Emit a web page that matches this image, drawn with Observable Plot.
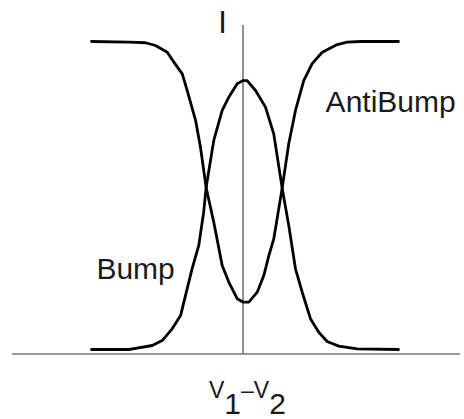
<!DOCTYPE html>
<html>
<head>
<meta charset="utf-8">
<script src="https://cdn.jsdelivr.net/npm/d3@7"></script>
<script src="https://cdn.jsdelivr.net/npm/@observablehq/plot@0.6"></script>
<style>
  body { margin: 0; background: #fff; }
  #chart { position: relative; width: 464px; height: 419px; }
  .caption {
    position: absolute; left: 209px; top: 379px;
    font-family: "Liberation Sans", Arial, sans-serif;
    font-size: 23px; line-height: 23px; color: #1a1a1a; white-space: nowrap;
  }
  .caption sub { font-size: 30px; vertical-align: -16px; line-height: 0; }
</style>
</head>
<body>
<div id="chart"></div>
<script>
// Bump: current peaks when the two input voltages are equal
const bumpX = [-0.990, -0.746, -0.703, -0.593, -0.528, -0.463, -0.408, -0.376, -0.333, -0.289,
  -0.257, -0.241, -0.191, -0.136, -0.093, -0.038, -0.001, 0.027, 0.082, 0.147,
  0.201, 0.256, 0.299, 0.343, 0.387, 0.441, 0.495, 0.550, 0.626, 0.746, 1.016];
const bumpY = [0.000, 0.000, 0.004, 0.013, 0.029, 0.067, 0.110, 0.175, 0.262, 0.338,
  0.446, 0.526, 0.679, 0.776, 0.819, 0.863, 0.873, 0.873, 0.841, 0.787,
  0.700, 0.524, 0.403, 0.262, 0.186, 0.100, 0.056, 0.026, 0.011, 0.002, 0.000];

// AntiBump: current dips when the two input voltages are equal
const antiX = [-0.990, -0.746, -0.637, -0.572, -0.495, -0.452, -0.397, -0.365, -0.310, -0.278,
  -0.241, -0.191, -0.136, -0.093, -0.038, -0.001, 0.038, 0.093, 0.136, 0.169,
  0.201, 0.256, 0.299, 0.343, 0.397, 0.452, 0.518, 0.616, 0.681, 0.768, 1.016];
const antiY = [1.000, 0.998, 0.996, 0.987, 0.965, 0.933, 0.895, 0.841, 0.744, 0.657,
  0.526, 0.413, 0.273, 0.219, 0.165, 0.154, 0.154, 0.186, 0.240, 0.305,
  0.359, 0.524, 0.668, 0.776, 0.873, 0.928, 0.965, 0.990, 0.998, 1.000, 1.000];

// Curve names and axis name, anchored in data space
const labelText = ["AntiBump", "Bump"];
const labelX = [0.540, -0.958];
const labelY = [0.770, 0.2295];
const axisName = "I";

const bump = bumpX.map((x, i) => ({x, y: bumpY[i]}));
const anti = antiX.map((x, i) => ({x, y: antiY[i]}));
const labels = labelText.map((text, i) => ({text, x: labelX[i], y: labelY[i]}));

const font = "'Liberation Sans', Arial, Helvetica, sans-serif";

const plot = Plot.plot({
  width: 464,
  height: 370,
  marginLeft: 12,
  marginRight: 4,
  marginTop: 0,
  marginBottom: 0,
  x: {domain: [-1, 1], range: [89.5, 395.5], axis: null},
  y: {domain: [0, 1], range: [349, 41], axis: null},
  style: {fontFamily: font, background: "white", color: "#1a1a1a"},
  marks: [
    Plot.ruleY([-0.0146], {stroke: "#777", strokeWidth: 1.5}),
    Plot.ruleX([0], {y1: -0.0146, y2: 1.052, stroke: "#222", strokeWidth: 1}),
    Plot.line(bump, {x: "x", y: "y", stroke: "black", strokeWidth: 2.8, strokeLinejoin: "round"}),
    Plot.line(anti, {x: "x", y: "y", stroke: "black", strokeWidth: 2.8, strokeLinejoin: "round"}),
    Plot.text(labels, {x: "x", y: "y", text: "text", textAnchor: "start", lineAnchor: "bottom",
      fontSize: 30, fill: "#1a1a1a"}),
    Plot.text([axisName], {x: -0.133, y: 1.029, text: d => d, textAnchor: "middle", lineAnchor: "bottom",
      fontSize: 31, fill: "#1a1a1a"})
  ]
});

const chart = document.getElementById("chart");
chart.append(plot);

const caption = document.createElement("div");
caption.className = "caption";
caption.innerHTML = "V<sub>1</sub>–V<sub>2</sub>";
chart.append(caption);
</script>
</body>
</html>
